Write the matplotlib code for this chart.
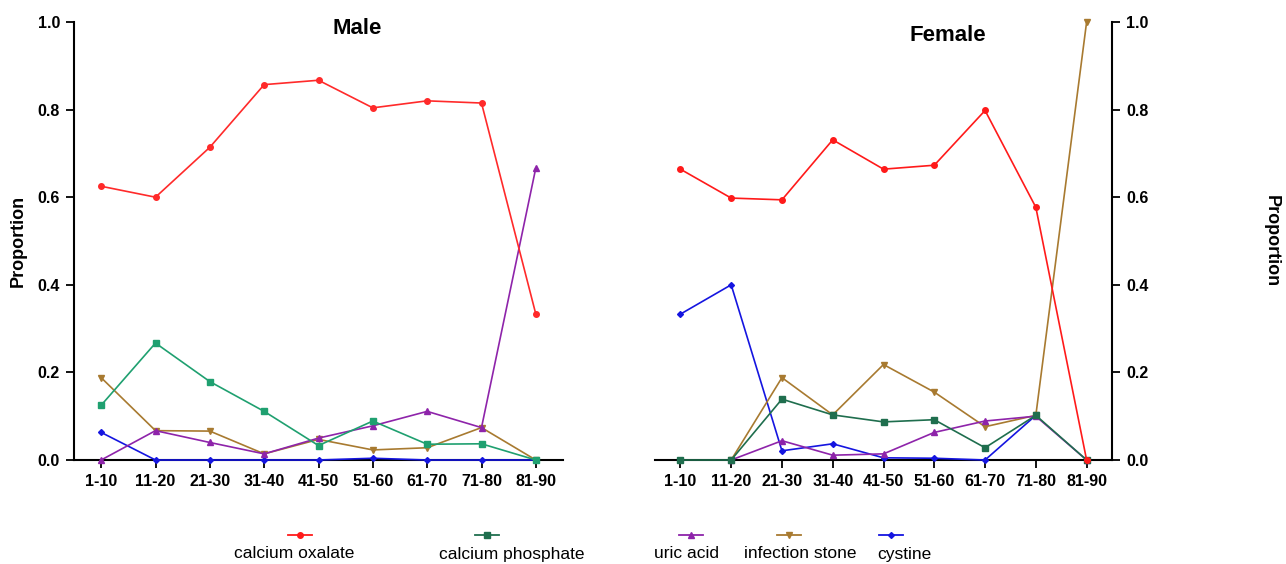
import numpy as np
import matplotlib
matplotlib.use("Agg")
import matplotlib.pyplot as plt
from matplotlib.lines import Line2D

plt.rcParams['font.family'] = ['Liberation Sans Narrow', 'Liberation Sans', 'DejaVu Sans']

age_groups = ["1-10", "11-20", "21-30", "31-40", "41-50", "51-60", "61-70", "71-80", "81-90"]
series_names = ["calcium oxalate", "calcium phosphate", "uric acid", "infection stone", "cystine"]

nan = np.nan
male_oxalate   = [0.625, 0.600, 0.714, 0.857, 0.867, 0.804, 0.820, 0.815, 0.333]
male_phosphate = [0.125, 0.267, 0.179, 0.111, 0.033, 0.089, 0.036, 0.037, 0.000]
male_uric      = [0.000, 0.067, 0.040, 0.014, 0.050, 0.078, 0.111, 0.074, 0.667]
male_infection = [0.188, 0.067, 0.066, 0.014, 0.047, 0.023, 0.028, 0.074, 0.000]
male_cystine   = [0.063, 0.000, 0.000, 0.000, 0.000, 0.004, 0.000, 0.000, 0.000]

female_oxalate   = [0.664, 0.598, 0.594, 0.731, 0.664, 0.673, 0.798, 0.577, 0.000]
female_phosphate = [0.000, 0.000, 0.139, 0.103, 0.087, 0.092, 0.028, 0.102, 0.000]
female_uric      = [nan, 0.000, 0.044, 0.011, 0.014, 0.063, 0.089, 0.100, 0.000]
female_infection = [nan, 0.000, 0.188, 0.103, 0.218, 0.155, 0.076, 0.102, 1.000]
female_cystine   = [0.333, 0.400, 0.021, 0.037, 0.005, 0.004, 0.000, 0.102, nan]

colors_male = ["#ff2a2a", "#1fa070", "#8e24aa", "#a87a30", "#1515e0"]
colors_female = ["#ff1a1a", "#1f6e4e", "#8e24aa", "#a87a30", "#1515e0"]
markers = ["o", "s", "^", "v", "D"]
msizes = [4, 4.5, 4, 4, 3]

fig = plt.figure(figsize=(12.86, 5.64), dpi=100)
axm = fig.add_axes([74/1286, 1-460/564, (563-74)/1286, (460-22)/564])
axf = fig.add_axes([655/1286, 1-460/564, (1112-655)/1286, (460-22)/564])

x = np.arange(len(age_groups))
male = [male_oxalate, male_phosphate, male_uric, male_infection, male_cystine]
female = [female_oxalate, female_phosphate, female_uric, female_infection, female_cystine]

order = [4, 3, 2, 1, 0]
for i in order:
    axm.plot(x, male[i], color=colors_male[i], marker=markers[i], ms=msizes[i],
             lw=1.2, clip_on=False, zorder=3 + (4 - i))
    axf.plot(x, female[i], color=colors_female[i], marker=markers[i], ms=msizes[i],
             lw=1.2, clip_on=False, zorder=3 + (4 - i))

for ax in (axm, axf):
    ax.set_xlim(-0.5, 8.5)
    ax.set_ylim(0, 1.0)
    ax.set_xticks(x)
    ax.set_xticklabels(age_groups, fontsize=11.5, fontweight='bold')
    ax.set_yticks([0, 0.2, 0.4, 0.6, 0.8, 1.0])
    ax.set_yticklabels(["0.0", "0.2", "0.4", "0.6", "0.8", "1.0"], fontsize=11.5, fontweight='bold')
    ax.tick_params(axis='both', direction='out', length=6, width=1.3, pad=4)
    for s in ax.spines.values():
        s.set_linewidth(1.5)
    ax.spines['top'].set_visible(False)

axm.spines['right'].set_visible(False)
axf.spines['left'].set_visible(False)
axf.yaxis.tick_right()
axf.yaxis.set_label_position('right')

axm.set_ylabel("Proportion", fontsize=13, fontweight='bold', labelpad=8)
axf.set_ylabel("Proportion", fontsize=13, fontweight='bold', rotation=270)
axf.yaxis.set_label_coords((1271 - 655) / 457, 0.5)
axf.yaxis.label.set_va('center')

axm.text(0.579, 0.985, "Male", transform=axm.transAxes, ha='center', va='center',
         fontsize=16, fontweight='bold')
axf.text(0.641, 0.97, "Female", transform=axf.transAxes, ha='center', va='center',
         fontsize=16, fontweight='bold')

# legend (manual: key above label)
key_x = [300, 487, 691, 789, 891]
text_x = [294, 512, 686, 800, 904]
leg_colors = ["#ff1a1a", "#1f6e4e", "#8e24aa", "#a87a30", "#1515e0"]
for i in range(5):
    kx = key_x[i] / 1286
    ky = 1 - 535 / 564
    fig.add_artist(Line2D([kx - 12/1286, kx + 12/1286], [ky, ky], color=leg_colors[i],
                          lw=1.3, transform=fig.transFigure))
    fig.add_artist(Line2D([kx], [ky], color=leg_colors[i], marker=markers[i],
                          ms=msizes[i], transform=fig.transFigure))
    fig.text(text_x[i] / 1286, 1 - 554 / 564, series_names[i], ha='center', va='center',
             fontsize=12.5)

fig.savefig("out.png", dpi=100)
